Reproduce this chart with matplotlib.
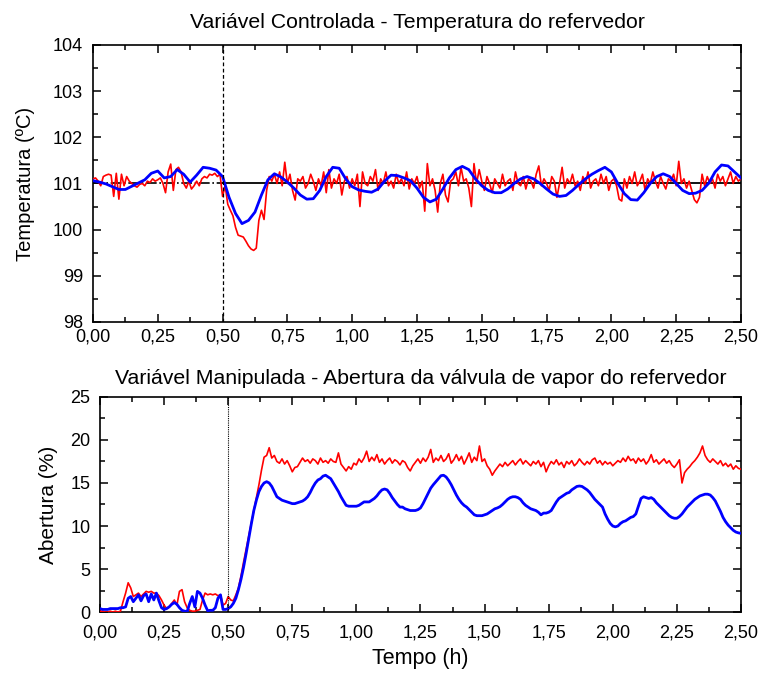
import numpy as np
import matplotlib
matplotlib.use('Agg')
import matplotlib.pyplot as plt
from matplotlib import font_manager
from matplotlib.ticker import MultipleLocator, FuncFormatter

names = set(f.name for f in font_manager.fontManager.ttflist)
fam = 'Liberation Sans Narrow' if 'Liberation Sans Narrow' in names else 'Liberation Sans'
plt.rcParams['font.family'] = [fam, 'DejaVu Sans']

# top panel: reboiler temperature (degC)
t_temp_red = np.round(np.arange(0, 251) * 0.01, 2)
temp_red = [
    101.10, 101.12, 101.05, 100.95, 101.15, 101.18, 101.20, 101.18, 100.72, 101.22,
    100.66, 101.20, 100.95, 101.15, 101.05, 101.00, 100.95, 100.92, 100.98, 101.00,
    100.95, 101.05, 101.02, 101.10, 101.05, 101.08, 101.12, 101.00, 100.80, 101.25,
    101.42, 100.85, 101.30, 101.35, 101.25, 101.00, 100.90, 101.05, 100.88, 100.95,
    101.05, 100.95, 101.10, 101.15, 101.12, 101.20, 101.18, 101.22, 101.15, 101.20,
    100.72, 100.95, 100.55, 100.42, 100.30, 100.05, 99.88, 99.86, 99.84, 99.75,
    99.65, 99.58, 99.55, 99.60, 100.20, 100.42, 100.22, 100.85, 101.15, 101.05,
    101.20, 101.00, 101.25, 100.95, 101.46, 101.00, 101.20, 100.85, 100.64, 101.10,
    101.05, 101.15, 100.90, 101.00, 101.20, 101.05, 100.85, 101.10, 100.95, 101.25,
    100.80, 101.30, 100.90, 101.10, 101.00, 101.20, 100.75, 101.05, 101.15, 100.90,
    101.10, 100.95, 101.20, 100.50, 101.25, 101.00, 100.95, 101.15, 101.05, 101.30,
    100.85, 101.10, 101.00, 101.25, 100.95, 101.05, 100.90, 101.20, 101.00, 101.10,
    100.95, 101.25, 100.88, 101.10, 101.00, 101.15, 100.90, 101.05, 100.40, 101.43,
    100.95, 101.10, 100.85, 100.38, 101.00, 101.20, 100.75, 100.60, 101.05, 101.10,
    101.25, 100.95, 101.35, 101.05, 101.10, 100.90, 100.50, 101.43, 101.00, 101.30,
    101.05, 100.85, 101.15, 101.00, 100.80, 101.10, 101.00, 100.90, 101.20, 100.95,
    101.05, 101.10, 100.85, 101.25, 101.00, 100.95, 101.15, 100.88, 101.10, 101.05,
    100.90, 101.20, 101.38, 100.95, 101.10, 101.00, 100.85, 101.15, 101.05, 100.70,
    101.00, 101.35, 100.90, 101.10, 101.00, 101.20, 100.95, 101.05, 100.85, 101.15,
    101.00, 101.25, 100.90, 101.05, 101.10, 100.95, 101.20, 101.00, 101.15, 100.85,
    101.05, 101.10, 100.95, 100.66, 100.62, 101.10, 100.90, 101.15, 101.00, 101.25,
    100.95, 101.05, 101.20, 100.85, 101.10, 101.00, 101.25, 101.05, 100.90, 101.15,
    101.00, 100.88, 101.10, 101.05, 101.20, 100.95, 101.48, 101.00, 101.10, 100.90,
    101.05, 100.85, 100.65, 100.58, 100.70, 101.20, 100.95, 101.15, 101.00, 101.10,
    100.90, 101.20, 101.05, 101.15, 100.95, 101.10, 101.25, 101.00, 101.15, 101.05,
    101.10,
]
t_temp_blue = np.round(np.arange(0, 101) * 0.025, 3)
temp_blue = [
    101.06, 101.03, 100.99, 100.93, 100.87, 100.87, 100.94, 101.01, 101.08, 101.22,
    101.27, 101.12, 101.15, 101.30, 101.20, 101.03, 101.18, 101.35, 101.33, 101.29,
    101.15, 100.70, 100.35, 100.13, 100.20, 100.38, 100.75, 101.08, 101.21, 101.14,
    101.03, 100.90, 100.75, 100.66, 100.67, 100.85, 101.15, 101.35, 101.33, 101.10,
    100.93, 100.86, 100.83, 100.81, 100.88, 101.05, 101.18, 101.17, 101.12, 101.06,
    100.90, 100.70, 100.60, 100.66, 100.88, 101.12, 101.30, 101.37, 101.30, 101.10,
    100.95, 100.85, 100.80, 100.80, 100.88, 101.00, 101.10, 101.15, 101.10, 101.00,
    100.88, 100.77, 100.72, 100.74, 100.85, 100.98, 101.10, 101.20, 101.28, 101.35,
    101.25, 101.00, 100.78, 100.65, 100.64, 100.80, 101.00, 101.15, 101.21, 101.15,
    101.00, 100.85, 100.78, 100.79, 100.85, 101.00, 101.25, 101.40, 101.38, 101.25,
    101.12,
]
setpoint = 101.0
t_step = 0.5

# bottom panel: steam valve opening (%)
t_valve = np.round(np.arange(0, 251) * 0.01, 2)
valve_red = [
    0.1, 0.1, 0.0, 0.0, 0.1, 0.0, 0.1, 0.0, 0.1, 1.2,
    2.2, 3.4, 2.8, 1.8, 2.0, 2.2, 1.8, 2.1, 2.4, 2.3,
    2.4, 2.2, 2.2, 1.9, 1.4, 0.8, 0.4, 0.6, 1.0, 1.4,
    0.8, 2.4, 2.6, 1.2, 0.5, 0.2, 0.1, 0.1, 0.2, 0.3,
    1.4, 2.2, 2.0, 2.1, 2.0, 2.1, 1.9, 2.0, 0.8, 1.0,
    1.8, 1.4, 1.3, 2.0, 2.8, 4.2, 5.8, 7.3, 8.8, 10.3,
    11.8, 13.3, 14.8, 16.5, 18.0, 18.2, 19.1, 17.9, 18.2, 17.5,
    17.3, 17.8, 17.2, 17.6, 17.0, 16.3, 16.8, 16.9, 17.4, 17.9,
    17.5, 17.7, 17.3, 17.8, 17.6, 17.2, 17.9, 17.4, 17.6, 17.3,
    17.8, 17.5, 17.4, 18.5, 17.2, 16.8, 16.4, 16.9, 16.6, 17.3,
    17.1, 17.8, 17.4, 17.9, 18.7, 17.5, 18.0, 17.6, 18.3, 17.4,
    17.8, 17.2, 17.6, 17.9, 17.3, 17.7, 17.5, 17.1, 17.6, 17.4,
    16.8, 16.4, 17.0, 17.4, 17.8, 17.3, 17.9, 17.5, 18.0, 18.9,
    17.4, 17.9, 17.6, 18.2, 17.5, 17.8, 18.4, 17.3, 17.7, 18.3,
    17.6, 18.1, 17.2, 17.8, 18.5, 17.4, 18.0, 17.6, 19.3, 17.5,
    17.8, 17.0, 16.6, 15.9, 16.4, 16.8, 17.2, 16.9, 17.4, 17.0,
    17.3, 17.6, 17.1, 17.5, 17.8, 17.2, 17.6, 17.3, 17.0, 17.5,
    17.2, 17.6, 16.9, 17.4, 16.3, 17.0, 17.5, 17.2, 17.7, 17.1,
    17.4, 16.8, 17.5, 17.2, 17.6, 17.0, 17.3, 17.8, 17.4, 17.1,
    17.5, 17.2, 17.7, 17.9, 17.3, 17.6, 17.1, 17.5, 17.2, 17.4,
    17.0, 17.3, 17.6, 17.4, 17.9, 17.5, 18.1, 17.6, 17.8, 17.3,
    17.9, 17.5, 17.8, 17.2, 17.6, 18.3, 17.4, 17.7, 17.2, 17.5,
    17.8, 17.3, 17.6, 17.1, 16.8, 17.2, 17.7, 15.0, 16.2, 16.6,
    16.9, 17.3, 17.6, 18.0, 18.5, 19.3, 18.2, 17.7, 17.4, 17.8,
    17.5, 17.2, 17.6, 17.0, 17.3, 16.9, 17.2, 16.6, 17.0, 16.7,
    16.6,
]
valve_blue = [
    0.4, 0.3, 0.3, 0.3, 0.4, 0.4, 0.4, 0.4, 0.5, 0.5,
    0.6, 1.6, 1.8, 1.2, 1.6, 2.0, 1.3, 1.9, 2.1, 1.2,
    2.1, 1.4, 2.2, 1.3, 0.5, 0.3, 0.4, 0.6, 0.9, 1.1,
    0.9, 0.5, 0.2, 0.1, 0.05, 1.0, 1.8, 0.6, 2.4, 2.2,
    1.6, 0.8, 0.15, 0.2, 0.2, 0.5, 1.6, 2.0, 0.3, 0.3,
    0.4, 0.6, 1.0, 1.6, 2.6, 3.8, 5.2, 6.8, 8.5, 10.2,
    11.8, 13.0, 14.0, 14.6, 15.0, 15.15, 15.0, 14.6, 14.0, 13.4,
    13.2, 13.0, 12.9, 12.8, 12.7, 12.6, 12.6, 12.7, 12.8, 12.9,
    13.1, 13.4, 13.9, 14.5, 15.0, 15.35, 15.5, 15.8, 15.9, 15.7,
    15.5, 15.0, 14.5, 14.0, 13.4, 12.9, 12.4, 12.3, 12.3, 12.3,
    12.3, 12.4, 12.6, 12.8, 12.8, 12.8, 13.0, 13.2, 13.5, 13.9,
    14.2, 14.3, 14.2, 13.8, 13.3, 12.9, 12.5, 12.2, 12.2, 12.0,
    11.9, 11.8, 11.8, 11.8, 11.9, 12.1, 12.6, 13.2, 13.8, 14.4,
    14.8, 15.15, 15.5, 15.85, 15.9, 15.7, 15.3, 14.8, 14.2, 13.6,
    13.1, 12.7, 12.4, 12.2, 11.9, 11.6, 11.3, 11.2, 11.2, 11.2,
    11.3, 11.4, 11.6, 11.8, 12.0, 12.1, 12.25, 12.5, 12.8, 13.1,
    13.3, 13.4, 13.4, 13.3, 13.1, 12.7, 12.4, 12.2, 12.0, 11.9,
    11.8, 11.6, 11.3, 11.5, 11.5, 11.6, 11.8, 12.3, 12.8, 13.2,
    13.4, 13.6, 13.8, 13.9, 14.2, 14.4, 14.6, 14.65, 14.6, 14.4,
    14.2, 13.9, 13.5, 13.1, 12.8, 12.5, 12.2, 11.4, 10.8, 10.3,
    10.0, 9.9, 10.0, 10.3, 10.5, 10.6, 10.8, 11.0, 11.1, 11.4,
    12.3, 13.2, 13.4, 13.3, 13.2, 13.3, 13.1, 12.7, 12.4, 12.1,
    11.8, 11.5, 11.2, 11.0, 10.9, 10.9, 11.1, 11.4, 11.8, 12.2,
    12.5, 12.8, 13.1, 13.3, 13.5, 13.6, 13.7, 13.7, 13.6, 13.3,
    12.9, 12.3, 11.7, 11.0, 10.5, 10.1, 9.8, 9.5, 9.3, 9.2,
    9.15,
]

xticks = [0, 0.25, 0.5, 0.75, 1.0, 1.25, 1.5, 1.75, 2.0, 2.25, 2.5]
fmt = FuncFormatter(lambda v, p: ('%.2f' % v).replace('.', ','))

fig = plt.figure(figsize=(7.62, 6.75), dpi=100)
ax1 = fig.add_axes([0.122, 0.5230, 0.8504, 0.4104])
ax2 = fig.add_axes([0.1312, 0.0933, 0.8412, 0.3186])


def style(ax, xpad):
    ax.set_xlim(0, 2.5)
    ax.set_xticks(xticks)
    ax.xaxis.set_major_formatter(fmt)
    ax.xaxis.set_minor_locator(MultipleLocator(0.125))
    ax.tick_params(which='both', direction='in', top=True, right=True, width=1.1,
                   labelsize=13)
    ax.tick_params(axis='y', pad=7)
    ax.tick_params(axis='x', pad=xpad)
    ax.tick_params(which='major', length=6)
    ax.tick_params(which='minor', length=3.5)
    for s in ax.spines.values():
        s.set_linewidth(1.2)


# top
ax1.plot(t_temp_red, temp_red, color='#ff0000', lw=1.2, zorder=3)
ax1.plot(t_temp_blue, temp_blue, color='#0000ff', lw=2.0, zorder=4)
ax1.plot([0, t_step], [setpoint, setpoint], color='black', lw=1.2, ls='-.', zorder=2)
ax1.plot([t_step, 2.5], [setpoint, setpoint], color='black', lw=1.3, zorder=2)
ax1.axvline(t_step, color='black', lw=0.9, ls=(0, (3, 2)), zorder=5)
ax1.set_ylim(98, 104)
ax1.yaxis.set_minor_locator(MultipleLocator(0.5))
style(ax1, 5)
ax1.set_ylabel('Temperatura (ºC)', fontsize=14.5, labelpad=13)
ax1.set_title('Variável Controlada - Temperatura do refervedor', fontsize=15.3, pad=12)

# bottom
ax2.plot(t_valve, valve_red, color='#ff0000', lw=1.2, zorder=3)
ax2.plot(t_valve, valve_blue, color='#0000ff', lw=2.0, zorder=4)
ax2.axvline(t_step, color='black', lw=0.8, ls=(0, (1, 1)), zorder=5)
ax2.set_ylim(0, 25)
ax2.set_yticks([0, 5, 10, 15, 20, 25])
ax2.yaxis.set_minor_locator(MultipleLocator(2.5))
style(ax2, 9)
ax2.set_ylabel('Abertura (%)', fontsize=15, labelpad=9)
ax2.set_xlabel('Tempo (h)', fontsize=15.5, labelpad=5)
ax2.set_title('Variável Manipulada - Abertura da válvula de vapor do refervedor', fontsize=15.3, pad=9)

fig.savefig('out.png', dpi=100)
